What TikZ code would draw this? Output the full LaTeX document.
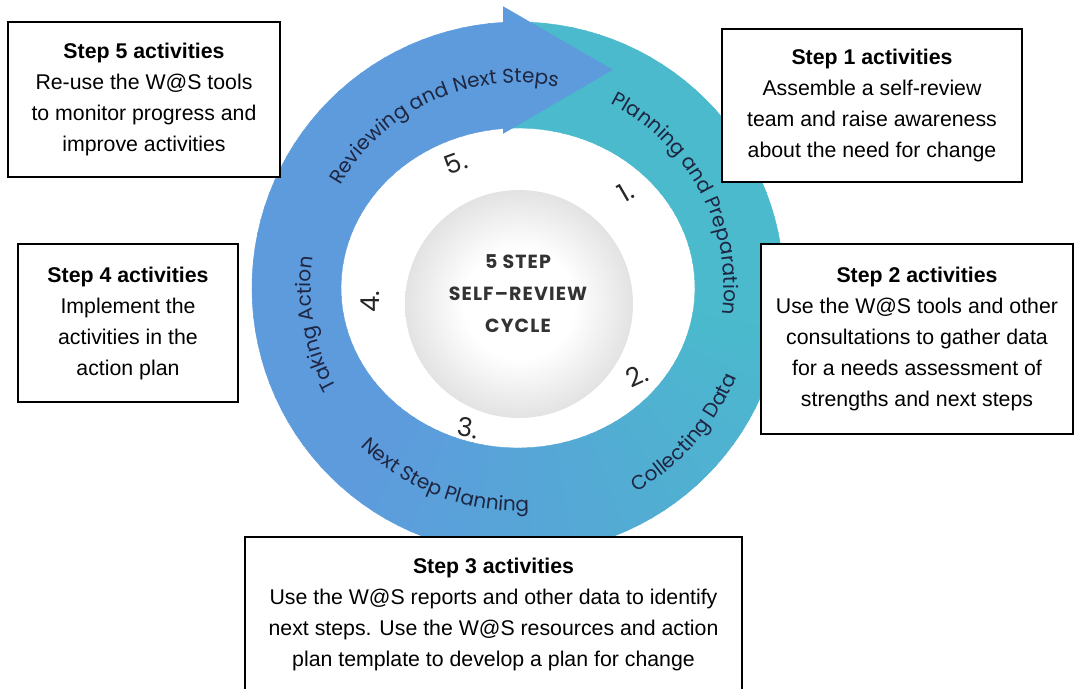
\documentclass[tikz,border=0pt]{standalone}
\usepackage{fontspec}
\setmainfont{Liberation Sans}
\newfontfamily\cyclefont{Poppins}
\usetikzlibrary{decorations.text}

\definecolor{ringblue}{RGB}{93,155,221}
\definecolor{ringteal}{RGB}{74,186,204}
\definecolor{ringtext}{RGB}{30,38,66}
\definecolor{coregray}{RGB}{172,172,172}

\newcommand\ringfont{\cyclefont\fontsize{20}{20}\selectfont}

\pgfdeclareradialshading{corebulb}{\pgfpoint{0bp}{0bp}}{%
  color(0bp)=(white); color(12bp)=(white); color(50bp)=(coregray); color(100bp)=(coregray)}

\begin{document}
\begin{tikzpicture}[x=1pt, y=1pt]

\tikzstyle{stepbox}=[
    draw=black,
    line width=1.2pt,
    fill=white,
    align=center,
    inner sep=0pt,
    font=\fontsize{21.3}{31}\selectfont
]
\tikzstyle{stepnum}=[font=\cyclefont\fontsize{26}{26}\selectfont, text=black!85]
\tikzstyle{ringlabel}=[decorate, decoration={text along path, text align=center, text color=ringtext}]

\useasboundingbox (0,0) rectangle (1075,-688);
\coordinate (hub) at (518,-288);

% ring, slice by slice: teal on the right, blue on the left
\foreach \a in {0,3,...,357} {
    \pgfmathsetmacro\tealpart{\a<93 ? 100 : (\a<230 ? 0 : min(100,(\a-230)/1.2))}
    \colorlet{slice}{ringteal!\tealpart!ringblue}
    \fill[slice, draw=slice, line width=0.4pt]
        ([shift={(\a:266)}]hub) arc[start angle=\a, end angle=\a+3.4, radius=266]
        -- ([shift={(\a+3.4:177 and 160)}]hub)
        arc[start angle=\a+3.4, end angle=\a, x radius=177, y radius=160] -- cycle;
}
\fill[ringblue] ([shift={(93:282)}]hub) -- ([shift={(66.5:238)}]hub) -- ([shift={(95.5:155)}]hub) -- cycle;

% stage names round the ring
\path[ringlabel, decoration={text={|\ringfont|Reviewing and Next Steps}}]
    ([shift={(175:205)}]hub) arc[start angle=175, end angle=54, radius=205];
\path[ringlabel, decoration={text={|\ringfont|Planning and Preparation}}]
    ([shift={(89:206)}]hub) arc[start angle=89, end angle=-33, radius=206];
\path[ringlabel, decoration={text={|\ringfont|Taking Action}}]
    ([shift={(240:207)}]hub) arc[start angle=240, end angle=140, radius=207];
\path[ringlabel, decoration={text={|\ringfont|Collecting Data}}]
    ([shift={(269:236)}]hub) arc[start angle=269, end angle=369, radius=236];
\path[ringlabel, decoration={text={|\ringfont|Next Step Planning}}]
    ([shift={(193:223)}]hub) arc[start angle=193, end angle=305, radius=223];

\node[circle, minimum size=228pt, inner sep=0pt, shade, shading=corebulb] (Core) at (519,-304) {};
\node[font=\cyclefont\bfseries\fontsize{19}{32}\selectfont\addfontfeatures{LetterSpace=6}, align=center, text=black!80]
    (Title) at (518,-294) {5 STEP\\SELF–REVIEW\\CYCLE};

\node[stepnum, rotate=30] (Num_1) at (626,-192) {1.};
\node[stepnum, rotate=25] (Num_2) at (637,-376) {2.};
\node[stepnum, rotate=-8] (Num_3) at (468,-428) {3.};
\node[stepnum, rotate=90] (Num_4) at (370,-302) {4.};
\node[stepnum, rotate=20] (Num_5) at (456,-163) {5.};

\node[stepbox, minimum width=272pt, minimum height=155pt] (Step_5) at (144,-99.5)
    {\textbf{Step 5 activities}\\Re-use the W@S tools\\to monitor progress and\\improve activities};
\node[stepbox, minimum width=300pt, minimum height=153pt] (Step_1) at (872,-105.5)
    {\textbf{Step 1 activities}\\Assemble a self-review\\team and raise awareness\\about the need for change};
\node[stepbox, minimum width=312pt, minimum height=190pt] (Step_2) at (917,-339)
    {\textbf{Step 2 activities}\\Use the W@S tools and other\\consultations to gather data\\for a needs assessment of\\strengths and next steps};
\node[stepbox, minimum width=497pt, minimum height=154pt] (Step_3) at (493.5,-614)
    {\textbf{Step 3 activities}\\Use the W@S reports and other data to identify\\next steps. Use the W@S resources and action\\plan template to develop a plan for change};
\node[stepbox, minimum width=220pt, minimum height=158pt] (Step_4) at (128,-323)
    {\textbf{Step 4 activities}\\Implement the\\activities in the\\action plan};

\end{tikzpicture}
\end{document}
